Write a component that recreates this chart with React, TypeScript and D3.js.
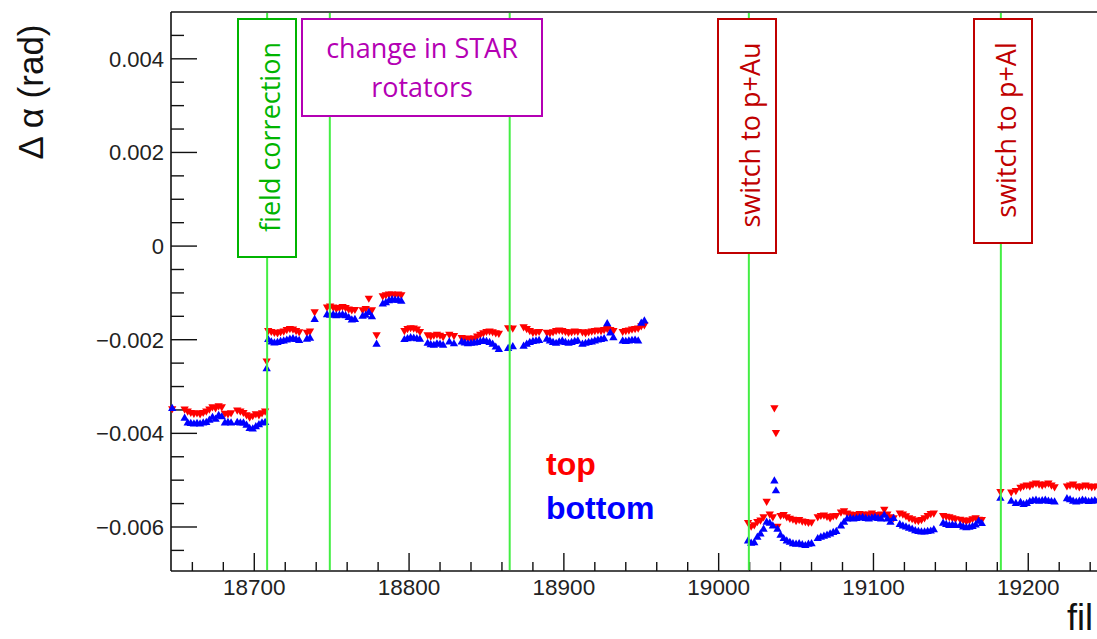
import React, { useEffect } from 'react';
import * as d3 from 'd3';

// fill numbers and the two alignment series (rad), one line per run block
const fills = [
  18647,
  18655, 18657, 18659, 18661, 18663, 18665, 18667, 18669, 18671, 18673, 18675, 18677, 18679,
  18681, 18683, 18685,
  18689, 18691, 18693, 18695, 18697, 18699, 18701, 18703, 18705, 18707,
  18708,
  18709, 18711, 18713, 18715, 18717, 18719, 18721, 18723, 18725, 18727, 18729, 18734, 18736,
  18739,
  18747, 18749, 18751, 18753, 18755, 18757, 18759, 18761, 18763, 18765,
  18770, 18772, 18774, 18776,
  18779,
  18783, 18785, 18787, 18789, 18791, 18793, 18795,
  18797, 18799, 18801, 18803, 18805, 18807,
  18812, 18814, 18816, 18818, 18820, 18822,
  18826, 18829,
  18834, 18836, 18838, 18840, 18842, 18844, 18846, 18848,
  18850, 18852, 18854, 18856, 18858,
  18864, 18867,
  18874, 18876, 18878, 18880, 18882, 18884,
  18889, 18891, 18893, 18895, 18897, 18899, 18901, 18903, 18905, 18907, 18909,
  18912, 18914, 18916, 18918, 18920, 18922, 18924, 18926, 18928, 18930, 18932,
  18938, 18940, 18942, 18944, 18946, 18948, 18950, 18952,
  19019, 19021, 19023, 19025,
  19027, 19029, 19031, 19033, 19035, 19036, 19037,
  19038, 19040, 19042, 19044, 19046, 19048, 19050, 19052, 19054, 19056, 19058, 19060,
  19064, 19066, 19068, 19070, 19072, 19074, 19076,
  19079, 19081, 19083, 19085, 19087,
  19089, 19091, 19093, 19095, 19097, 19099, 19101, 19103, 19105,
  19107, 19109, 19111, 19113,
  19117, 19119, 19121, 19123,
  19125, 19127, 19129, 19131, 19133, 19135, 19137, 19139,
  19145, 19147, 19149, 19151, 19153,
  19156, 19158, 19160, 19162, 19164, 19166, 19168, 19170,
  19182,
  19189, 19192,
  19195, 19197, 19199, 19201, 19203, 19205, 19207, 19209, 19211, 19213, 19215, 19217,
  19225, 19227, 19229, 19231, 19233, 19235, 19237, 19239, 19241, 19243, 19245,
];

const topAlpha = [
  -0.00347,
  -0.00348, -0.00352, -0.00355, -0.00357, -0.00356, -0.00358, -0.00355, -0.00352, -0.00348, -0.00343, -0.00345, -0.00341, -0.00343,
  -0.00357, -0.00358, -0.00356,
  -0.0035, -0.00352, -0.00355, -0.0036, -0.00365, -0.00362, -0.00358, -0.0036, -0.00356, -0.00352,
  -0.00245,
  -0.0018, -0.00182, -0.00184, -0.00185, -0.00183, -0.00181, -0.00178, -0.00176, -0.00177, -0.0018, -0.00183, -0.00184, -0.00181,
  -0.0014,
  -0.0013, -0.00128, -0.0013, -0.00133, -0.00131, -0.00129, -0.00131, -0.00134, -0.00136, -0.00135,
  -0.00136, -0.00133, -0.00111, -0.00136,
  -0.00189,
  -0.00106, -0.00104, -0.00102, -0.00102, -0.00103, -0.00102, -0.00104,
  -0.0018, -0.00176, -0.00174, -0.00175, -0.00177, -0.00182,
  -0.00189, -0.00192, -0.0019, -0.00188, -0.0019, -0.00193,
  -0.00188, -0.00191,
  -0.00195, -0.00197, -0.00196, -0.00198, -0.00196, -0.00192, -0.00188, -0.00185,
  -0.00182, -0.00181, -0.00183, -0.00185, -0.00186,
  -0.00174, -0.00175,
  -0.00172, -0.00176, -0.0018, -0.00184, -0.00183, -0.00182,
  -0.00184, -0.00185, -0.00183, -0.0018, -0.00179, -0.0018, -0.00182, -0.00184, -0.00183, -0.00181, -0.00182,
  -0.00183, -0.00185, -0.00183, -0.00181, -0.0018, -0.00179, -0.0018, -0.00178, -0.00176, -0.00178, -0.0018,
  -0.00182, -0.0018, -0.00179, -0.00177, -0.00176, -0.00175, -0.0017, -0.00168,
  -0.0059, -0.00598, -0.00595, -0.00588,
  -0.00585, -0.00578, -0.00545, -0.00572, -0.00578, -0.00345, -0.00398,
  -0.00598, -0.00575, -0.00573, -0.00578, -0.00581, -0.00583, -0.00586, -0.00584, -0.00587, -0.00588, -0.0059, -0.00589,
  -0.00578, -0.00575, -0.00574, -0.00577, -0.0058, -0.00576, -0.00575,
  -0.00568, -0.00565, -0.0057, -0.00572, -0.00573,
  -0.00573, -0.00571, -0.00572, -0.00574, -0.00572, -0.0057, -0.00573, -0.00574, -0.00572,
  -0.00562, -0.00572, -0.00578, -0.0058,
  -0.0057, -0.00572, -0.00576, -0.0058,
  -0.00582, -0.00585, -0.00586, -0.00584, -0.0058, -0.00575, -0.00571, -0.0057,
  -0.00575, -0.00577, -0.00578, -0.0058, -0.00582,
  -0.00583, -0.00585, -0.00587, -0.00585, -0.00582, -0.0058, -0.00583, -0.00584,
  -0.00524,
  -0.00525, -0.00522,
  -0.00515, -0.00512, -0.0051, -0.00512, -0.00508, -0.00506, -0.00508, -0.0051, -0.00508, -0.00506, -0.0051, -0.00514,
  -0.00512, -0.0051, -0.00508, -0.00512, -0.00514, -0.00512, -0.0051, -0.00512, -0.00514, -0.00513, -0.00512,
];

const bottomAlpha = [
  -0.00347,
  -0.00368, -0.00378, -0.00379, -0.0038, -0.00379, -0.0038, -0.00378, -0.00377, -0.00372, -0.00366, -0.0037, -0.00362, -0.00365,
  -0.00378, -0.00377, -0.00378,
  -0.00377, -0.00378, -0.00378, -0.00383, -0.0039, -0.00391, -0.00386, -0.00382, -0.00378, -0.00377,
  -0.00262,
  -0.002, -0.00205, -0.00207, -0.00206, -0.00204, -0.00203, -0.00201, -0.00199, -0.00198, -0.002, -0.00202, -0.00199, -0.00197,
  -0.00157,
  -0.00147, -0.00148, -0.00147, -0.00149, -0.00148, -0.00147, -0.00149, -0.00153, -0.00158, -0.00157,
  -0.0015, -0.00148, -0.00142, -0.00151,
  -0.0021,
  -0.00124, -0.00121, -0.00117, -0.00115, -0.00116, -0.00116, -0.00118,
  -0.002, -0.00198, -0.00196, -0.00197, -0.00198, -0.00199,
  -0.00208, -0.00211, -0.00212, -0.00209, -0.0021, -0.00212,
  -0.00205, -0.00209,
  -0.00205, -0.00207, -0.00209, -0.00208, -0.00207, -0.00206, -0.00204, -0.00203,
  -0.00204, -0.00206, -0.0021, -0.00216, -0.00221,
  -0.00219, -0.00215,
  -0.00214, -0.0021, -0.00206, -0.00204, -0.00203, -0.00202,
  -0.00199, -0.00203, -0.00206, -0.00208, -0.00205, -0.00203, -0.00206, -0.00208, -0.00206, -0.00204, -0.00203,
  -0.0021, -0.00208, -0.00206, -0.00205, -0.00203, -0.00201, -0.002, -0.00198, -0.00166, -0.00186, -0.00196,
  -0.00203, -0.00204, -0.00203, -0.00202, -0.00201, -0.00203, -0.00165, -0.0016,
  -0.0063, -0.00635, -0.00634, -0.00622,
  -0.00615, -0.00605, -0.0059, -0.00592, -0.00598, -0.00502, -0.00523,
  -0.00605, -0.00618, -0.00625, -0.0063, -0.00633, -0.00636, -0.00637, -0.00636, -0.00638, -0.0064, -0.00637, -0.00636,
  -0.00625, -0.00622, -0.0062, -0.00618, -0.00615, -0.00612, -0.0061,
  -0.00598, -0.0059, -0.00583, -0.00582, -0.00583,
  -0.00582, -0.00581, -0.0058, -0.00582, -0.00583, -0.00581, -0.0058, -0.00582, -0.00583,
  -0.00575, -0.00583, -0.0059, -0.00582,
  -0.00595, -0.00598, -0.006, -0.00603,
  -0.00605, -0.00608, -0.0061, -0.00611, -0.00611, -0.0061, -0.00609, -0.00606,
  -0.00592, -0.00595, -0.00597, -0.00596, -0.00597,
  -0.00597, -0.006, -0.00602, -0.00601, -0.00599, -0.00596, -0.00588, -0.00593,
  -0.00539,
  -0.00545, -0.0055,
  -0.00548, -0.00552, -0.0055, -0.00546, -0.00544, -0.00543, -0.00545, -0.00544, -0.00543, -0.00545, -0.00546, -0.00547,
  -0.0054, -0.00542, -0.00545, -0.00547, -0.00545, -0.00543, -0.00544, -0.00546, -0.00545, -0.00544, -0.00544,
];

const xTicks = [18700, 18800, 18900, 19000, 19100, 19200];
const yTicks = [-0.006, -0.004, -0.002, 0, 0.002, 0.004];
const yTickLabels = ['\u22120.006', '\u22120.004', '\u22120.002', '0', '0.002', '0.004'];
// fills where something changed (green markers)
const eventFills = [18708.3, 18748.8, 18865, 19019.5, 19182.3];

const W = 1097;
const H = 639;
const axisFont = '"Liberation Sans", Arial, Helvetica, sans-serif';
const noteFont = '"Open Sans", "Noto Sans", sans-serif';

export default function App() {
  useEffect(() => {
    document.body.style.margin = '0';
  }, []);

  const x = d3.scaleLinear().domain([18646.2, 19262.5]).range([171, 1125]);
  const y = d3.scaleLinear().domain([-0.00694, 0.005]).range([571, 12]);
  const [x0] = x.range();
  const [yBottom, yTop] = y.range();

  const xMinor = d3.range(18660, 19261, 20).filter((v) => v % 100 !== 0);
  const yMinor = d3.range(-13, 10).map((i) => i * 0.0005).filter((v) => Math.abs((v / 0.002) - Math.round(v / 0.002)) > 1e-6);

  const tri = d3.symbol().type(d3.symbolTriangle).size(30)();

  const red = '#ff0000';
  const blue = '#0000ff';
  const lineGreen = '#44ee44';

  // annotation boxes, placed like the hand drawn ones on the slide
  const vNotes = [
    { text: 'field correction', x: 238, y: 19, w: 58, h: 238, color: '#00b400' },
    { text: 'switch to p+Au', x: 718, y: 19, w: 58, h: 234, color: '#c00000' },
    { text: 'switch to p+Al', x: 974, y: 19, w: 58, h: 224, color: '#c00000' },
  ];

  return (
    <svg width={W} height={H} style={{ display: 'block', background: '#fff' }}>
      {/* frame */}
      <line x1={x0} x2={W} y1={yTop} y2={yTop} stroke="#111" strokeWidth={1.6} />
      <line x1={x0} x2={x0} y1={yTop} y2={yBottom} stroke="#111" strokeWidth={1.6} />
      <line x1={x0} x2={W} y1={yBottom} y2={yBottom} stroke="#111" strokeWidth={1.6} />

      {/* y axis */}
      {yTicks.map((v, i) => (
        <g key={'yt' + v}>
          <line x1={x0} x2={x0 + 26} y1={y(v)} y2={y(v)} stroke="#111" strokeWidth={1.4} />
          <text x={x0 - 7} y={y(v) + 8} textAnchor="end" fontFamily={axisFont} fontSize={22} fill="#222">
            {yTickLabels[i]}
          </text>
        </g>
      ))}
      {yMinor.map((v) => (
        <line key={'ym' + v} x1={x0} x2={x0 + 13} y1={y(v)} y2={y(v)} stroke="#111" strokeWidth={1.4} />
      ))}
      <text
        transform={`translate(43,92) rotate(-90)`}
        textAnchor="middle"
        fontFamily={axisFont}
        fontSize={35}
        fill="#111"
      >
        Δ α (rad)
      </text>

      {/* x axis */}
      {xTicks.map((v) => (
        <g key={'xt' + v}>
          <line x1={x(v)} x2={x(v)} y1={yBottom} y2={yBottom - 18} stroke="#111" strokeWidth={1.4} />
          <text x={x(v)} y={595} textAnchor="middle" fontFamily={axisFont} fontSize={22.5} fill="#222">
            {v}
          </text>
        </g>
      ))}
      {xMinor.map((v) => (
        <line key={'xm' + v} x1={x(v)} x2={x(v)} y1={yBottom} y2={yBottom - 9} stroke="#111" strokeWidth={1.4} />
      ))}
      <text x={1067} y={630} fontFamily={axisFont} fontSize={36} fill="#111">
        fil
      </text>

      {/* data */}
      {fills.map((f, i) => (
        <path key={'t' + f} d={tri} transform={`translate(${x(f)},${y(topAlpha[i])}) rotate(180)`} fill={red} />
      ))}
      {fills.map((f, i) => (
        <path key={'b' + f} d={tri} transform={`translate(${x(f)},${y(bottomAlpha[i])})`} fill={blue} />
      ))}

      {/* event markers */}
      {eventFills.map((f) => (
        <line key={'ev' + f} x1={x(f)} x2={x(f)} y1={yTop + 1} y2={yBottom - 1} stroke={lineGreen} strokeWidth={2} />
      ))}

      {/* annotation boxes */}
      {vNotes.map((n) => (
        <g key={n.text}>
          <rect x={n.x} y={n.y} width={n.w} height={n.h} fill="#fff" stroke={n.color} strokeWidth={2} />
          <text
            transform={`translate(${n.x + n.w / 2 + 13},${n.y + n.h / 2 - 1}) rotate(-90)`}
            textAnchor="middle"
            fontFamily={noteFont}
            fontSize={27}
            fill={n.color}
          >
            {n.text}
          </text>
        </g>
      ))}
      <rect x={302} y={19} width={240} height={97} fill="#fff" stroke="#b400b4" strokeWidth={2} />
      <text x={422} y={58} textAnchor="middle" fontFamily={noteFont} fontSize={27} fill="#b400b4">
        change in STAR
      </text>
      <text x={422} y={97} textAnchor="middle" fontFamily={noteFont} fontSize={27} fill="#b400b4">
        rotators
      </text>

      {/* legend */}
      <text x={546} y={475} fontFamily={axisFont} fontWeight="bold" fontSize={32} fill={red}>
        top
      </text>
      <text x={546} y={519} fontFamily={axisFont} fontWeight="bold" fontSize={32} fill={blue}>
        bottom
      </text>
    </svg>
  );
}
